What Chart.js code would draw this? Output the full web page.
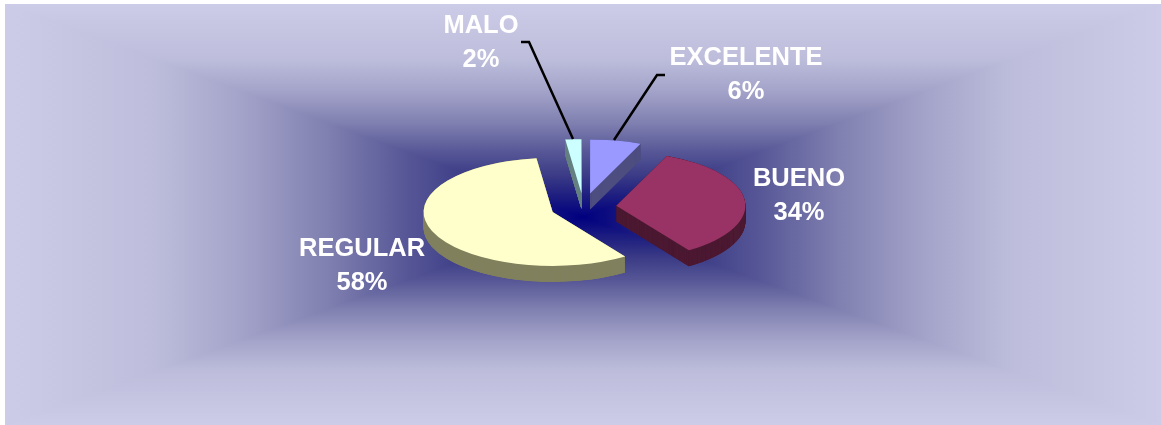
<!DOCTYPE html>
<html>
<head>
<meta charset="utf-8">
<script src="https://cdn.jsdelivr.net/npm/chart.js@4"></script>
<style>
  html, body { margin: 0; padding: 0; background: #fff; }
  canvas { display: block; }
</style>
</head>
<body>
<canvas id="grafico" width="1161" height="425"></canvas>
<script>
const categorias = ["EXCELENTE", "BUENO", "REGULAR", "MALO"];
const valores = [6.4, 34.1, 57.5, 2];

const coresFace = ["#9999FF", "#993366", "#FFFFCC", "#CCFFFF"];
const coresLado = ["#4D4D80", "#4D1A33", "#80805F", "#668080"];

// label centre for each category
const rotuloX = [746, 799, 362, 481];
const rotuloY = [58, 179, 249, 26];

const leaderExcelente = [[665, 75], [657, 75], [614, 140]];
const leaderMalo = [[521, 42], [529, 42], [573, 139]];

const escalaY = 0.419;
const profundidade = 16;
const explosao = 33;

// path gradient, centre to edge
const paradas = [
  [0, "rgb(0,0,128)"],
  [0.1, "rgb(30,30,128)"],
  [0.2, "rgb(60,60,135)"],
  [0.3, "rgb(85,85,150)"],
  [0.45, "rgb(130,130,178)"],
  [0.6, "rgb(165,165,203)"],
  [0.75, "rgb(190,190,220)"],
  [1, "rgb(204,204,232)"]
];

function gradiente(ctx, x0, y0, x1, y1) {
  const g = ctx.createLinearGradient(x0, y0, x1, y1);
  paradas.forEach(p => g.addColorStop(p[0], p[1]));
  return g;
}

function triangulo(ctx, a, b, c) {
  ctx.beginPath();
  ctx.moveTo(a[0], a[1]);
  ctx.lineTo(b[0], b[1]);
  ctx.lineTo(c[0], c[1]);
  ctx.closePath();
  ctx.fill();
}

const fundo = {
  id: "fundo",
  beforeDraw(chart) {
    const ctx = chart.ctx;
    const l = 5, t = 4, r = 1161, b = 425, cx = 583, cy = 217;
    ctx.save();
    ctx.fillStyle = "#fff";
    ctx.fillRect(0, 0, chart.width, chart.height);
    // sides as full rectangles so the triangles on top leave no seam
    ctx.fillStyle = gradiente(ctx, cx, cy, l, cy);
    ctx.fillRect(l, t, cx - l + 1, b - t);
    ctx.fillStyle = gradiente(ctx, cx, cy, r, cy);
    ctx.fillRect(cx, t, r - cx, b - t);
    ctx.fillStyle = gradiente(ctx, cx, cy, cx, t);
    triangulo(ctx, [l, t], [cx, cy], [r, t]);
    ctx.fillStyle = gradiente(ctx, cx, cy, cx, b);
    triangulo(ctx, [l, b], [cx, cy], [r, b]);
    ctx.restore();
  }
};

// moves the slices out, squashes the pie into an ellipse and extrudes the arcs for the 3D side
const pizza3d = {
  id: "pizza3d",
  afterDatasetsUpdate(chart) {
    chart.getDatasetMeta(0).data.forEach(arco => {
      const meio = (arco.startAngle + arco.endAngle) / 2;
      arco.x += Math.cos(meio) * explosao;
      arco.y += Math.sin(meio) * explosao;
    });
  },
  beforeDatasetsDraw(chart) {
    const ctx = chart.ctx;
    const cx = (chart.chartArea.left + chart.chartArea.right) / 2;
    const cy = (chart.chartArea.top + chart.chartArea.bottom) / 2;
    const arcos = chart.getDatasetMeta(0).data;
    ctx.save();
    ctx.translate(cx, cy);
    ctx.scale(1, escalaY);
    ctx.translate(-cx, -cy);
    arcos.forEach((arco, i) => {
      const original = arco.options;
      arco.options = Object.assign({}, original, { backgroundColor: coresLado[i] });
      for (let d = profundidade; d > 0; d -= 0.2) {
        ctx.save();
        ctx.translate(0, d / escalaY);
        arco.draw(ctx);
        ctx.restore();
      }
      arco.options = original;
    });
  },
  afterDatasetsDraw(chart) {
    chart.ctx.restore();
  }
};

function linha(ctx, pts) {
  ctx.beginPath();
  pts.forEach((p, i) => (i ? ctx.lineTo(p[0], p[1]) : ctx.moveTo(p[0], p[1])));
  ctx.stroke();
}

const rotulos = {
  id: "rotulos",
  afterDraw(chart) {
    const ctx = chart.ctx;
    ctx.save();
    ctx.strokeStyle = "#000";
    ctx.lineWidth = 2.5;
    linha(ctx, leaderExcelente);
    linha(ctx, leaderMalo);
    ctx.fillStyle = "#fff";
    ctx.font = "bold 25.5px 'Liberation Sans', Arial, sans-serif";
    ctx.textAlign = "center";
    ctx.textBaseline = "middle";
    categorias.forEach((nome, i) => {
      ctx.fillText(nome, rotuloX[i], rotuloY[i]);
      ctx.fillText(Math.round(valores[i]) + "%", rotuloX[i], rotuloY[i] + 34);
    });
    ctx.restore();
  }
};

new Chart(document.getElementById("grafico"), {
  type: "pie",
  data: {
    labels: categorias,
    datasets: [
      {
        data: valores,
        backgroundColor: coresFace,
        borderWidth: 0,
        clip: false
      }
    ]
  },
  options: {
    responsive: false,
    animation: false,
    radius: 129,
    layout: { padding: { left: 6, bottom: 11 } },
    plugins: {
      legend: { display: false },
      tooltip: { enabled: false }
    }
  },
  plugins: [fundo, pizza3d, rotulos]
});
</script>
</body>
</html>
